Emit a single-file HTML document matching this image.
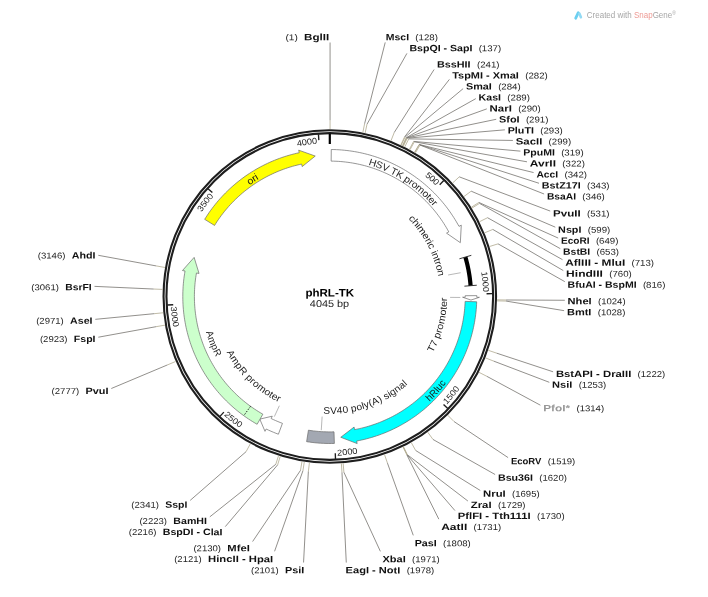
<!DOCTYPE html>
<html><head><meta charset="utf-8"><title>phRL-TK</title>
<style>
html,body{margin:0;padding:0;background:#fff;}
svg{display:block;font-family:"Liberation Sans",sans-serif;filter:blur(0.5px);}
</style></head><body>
<svg width="708" height="597" viewBox="0 0 708 597">
<rect width="708" height="597" fill="#fff"/>
<circle cx="329.8" cy="296.5" r="166.25" fill="none" stroke="#1e1e1e" stroke-width="2.1"/>
<circle cx="329.8" cy="296.5" r="163.35" fill="none" stroke="#1e1e1e" stroke-width="2.1"/>
<line x1="329.8" y1="133.5" x2="329.8" y2="144" stroke="#000" stroke-width="2.2" />
<line x1="443.77" y1="180.52" x2="439.7" y2="184.66" stroke="#1e1e1e" stroke-width="1.35" />
<text transform="translate(426.63,177.52) rotate(39.14) scale(1.08,1)" text-anchor="middle" font-size="8.5" font-weight="normal" fill="#222">5</text>
<text transform="translate(430.45,180.73) rotate(41) scale(1.08,1)" text-anchor="middle" font-size="8.5" font-weight="normal" fill="#222">0</text>
<text transform="translate(434.16,184.07) rotate(42.87) scale(1.08,1)" text-anchor="middle" font-size="8.5" font-weight="normal" fill="#222">0</text>
<line x1="492.38" y1="293.66" x2="486.58" y2="293.76" stroke="#1e1e1e" stroke-width="1.35" />
<text transform="translate(481.62,274.55) rotate(81.77) scale(1.08,1)" text-anchor="middle" font-size="8.5" font-weight="normal" fill="#222">1</text>
<text transform="translate(482.26,279.5) rotate(83.64) scale(1.08,1)" text-anchor="middle" font-size="8.5" font-weight="normal" fill="#222">0</text>
<text transform="translate(482.73,284.47) rotate(85.5) scale(1.08,1)" text-anchor="middle" font-size="8.5" font-weight="normal" fill="#222">0</text>
<text transform="translate(483.04,289.45) rotate(87.37) scale(1.08,1)" text-anchor="middle" font-size="8.5" font-weight="normal" fill="#222">0</text>
<line x1="447.75" y1="408.42" x2="443.54" y2="404.43" stroke="#1e1e1e" stroke-width="1.35" />
<text transform="translate(448.43,402.81) rotate(311.87) scale(1.08,1)" text-anchor="middle" font-size="8.5" font-weight="normal" fill="#222">1</text>
<text transform="translate(451.83,398.9) rotate(310) scale(1.08,1)" text-anchor="middle" font-size="8.5" font-weight="normal" fill="#222">5</text>
<text transform="translate(455.1,394.87) rotate(308.14) scale(1.08,1)" text-anchor="middle" font-size="8.5" font-weight="normal" fill="#222">0</text>
<text transform="translate(458.23,390.74) rotate(306.27) scale(1.08,1)" text-anchor="middle" font-size="8.5" font-weight="normal" fill="#222">0</text>
<line x1="335.48" y1="459" x2="335.28" y2="453.2" stroke="#1e1e1e" stroke-width="1.35" />
<text transform="translate(339.9,455.48) rotate(356.36) scale(1.08,1)" text-anchor="middle" font-size="8.5" font-weight="normal" fill="#222">2</text>
<text transform="translate(345.07,455.07) rotate(354.5) scale(1.08,1)" text-anchor="middle" font-size="8.5" font-weight="normal" fill="#222">0</text>
<text transform="translate(350.22,454.49) rotate(352.63) scale(1.08,1)" text-anchor="middle" font-size="8.5" font-weight="normal" fill="#222">0</text>
<text transform="translate(355.35,453.74) rotate(350.77) scale(1.08,1)" text-anchor="middle" font-size="8.5" font-weight="normal" fill="#222">0</text>
<line x1="219.96" y1="416.39" x2="223.87" y2="412.11" stroke="#1e1e1e" stroke-width="1.35" />
<text transform="translate(225.57,416.97) rotate(400.86) scale(1.08,1)" text-anchor="middle" font-size="8.5" font-weight="normal" fill="#222">2</text>
<text transform="translate(229.55,420.3) rotate(399) scale(1.08,1)" text-anchor="middle" font-size="8.5" font-weight="normal" fill="#222">5</text>
<text transform="translate(233.63,423.5) rotate(397.13) scale(1.08,1)" text-anchor="middle" font-size="8.5" font-weight="normal" fill="#222">0</text>
<text transform="translate(237.82,426.56) rotate(395.27) scale(1.08,1)" text-anchor="middle" font-size="8.5" font-weight="normal" fill="#222">0</text>
<line x1="167.42" y1="305.02" x2="173.22" y2="304.72" stroke="#1e1e1e" stroke-width="1.35" />
<text transform="translate(171.02,309.38) rotate(445.36) scale(1.08,1)" text-anchor="middle" font-size="8.5" font-weight="normal" fill="#222">3</text>
<text transform="translate(171.52,314.54) rotate(443.5) scale(1.08,1)" text-anchor="middle" font-size="8.5" font-weight="normal" fill="#222">0</text>
<text transform="translate(172.2,319.68) rotate(441.63) scale(1.08,1)" text-anchor="middle" font-size="8.5" font-weight="normal" fill="#222">0</text>
<text transform="translate(173.03,324.8) rotate(439.77) scale(1.08,1)" text-anchor="middle" font-size="8.5" font-weight="normal" fill="#222">0</text>
<line x1="208.01" y1="188.77" x2="212.36" y2="192.61" stroke="#1e1e1e" stroke-width="1.35" />
<text transform="translate(203.03,210.12) rotate(304.27) scale(1.08,1)" text-anchor="middle" font-size="8.5" font-weight="normal" fill="#222">3</text>
<text transform="translate(205.91,206.04) rotate(306.14) scale(1.08,1)" text-anchor="middle" font-size="8.5" font-weight="normal" fill="#222">5</text>
<text transform="translate(208.92,202.06) rotate(308) scale(1.08,1)" text-anchor="middle" font-size="8.5" font-weight="normal" fill="#222">0</text>
<text transform="translate(212.05,198.18) rotate(309.86) scale(1.08,1)" text-anchor="middle" font-size="8.5" font-weight="normal" fill="#222">0</text>
<line x1="318.44" y1="134.3" x2="318.85" y2="140.08" stroke="#1e1e1e" stroke-width="1.35" />
<text transform="translate(299.93,146.04) rotate(348.77) scale(1.08,1)" text-anchor="middle" font-size="8.5" font-weight="normal" fill="#222">4</text>
<text transform="translate(304.84,145.14) rotate(350.64) scale(1.08,1)" text-anchor="middle" font-size="8.5" font-weight="normal" fill="#222">0</text>
<text transform="translate(309.77,144.41) rotate(352.5) scale(1.08,1)" text-anchor="middle" font-size="8.5" font-weight="normal" fill="#222">0</text>
<text transform="translate(314.73,143.84) rotate(354.36) scale(1.08,1)" text-anchor="middle" font-size="8.5" font-weight="normal" fill="#222">0</text>
<path d="M331.28,149.51 L333.89,149.56 L336.49,149.65 L339.09,149.79 L341.69,149.98 L344.29,150.22 L346.88,150.5 L349.46,150.82 L352.04,151.19 L354.61,151.61 L357.18,152.07 L359.73,152.58 L362.28,153.13 L364.81,153.73 L367.34,154.37 L369.85,155.06 L372.35,155.79 L374.84,156.57 L377.31,157.39 L379.77,158.25 L382.21,159.16 L384.64,160.11 L387.05,161.1 L389.44,162.14 L391.81,163.22 L394.16,164.34 L396.49,165.5 L398.8,166.7 L401.09,167.95 L403.36,169.23 L405.61,170.55 L407.83,171.92 L410.02,173.32 L412.19,174.76 L414.34,176.24 L416.45,177.76 L418.55,179.31 L420.61,180.9 L422.64,182.53 L424.65,184.19 L426.62,185.89 L428.57,187.63 L430.48,189.39 L432.37,191.19 L434.22,193.03 L436.03,194.89 L437.82,196.79 L439.57,198.72 L441.28,200.68 L442.96,202.68 L444.61,204.7 L446.22,206.74 L447.79,208.82 L449.33,210.93 L450.82,213.06 L452.28,215.22 L453.7,217.4 L455.09,219.61 L456.43,221.84 L457.73,224.1 L459,226.38 L461.28,225.14 L460.34,242.68 L446.52,233.15 L448.8,231.91 L447.64,229.81 L446.44,227.73 L445.2,225.68 L443.93,223.64 L442.62,221.63 L441.27,219.64 L439.89,217.68 L438.48,215.74 L437.03,213.83 L435.55,211.94 L434.03,210.08 L432.49,208.25 L430.91,206.44 L429.29,204.66 L427.65,202.91 L425.98,201.19 L424.27,199.5 L422.54,197.84 L420.77,196.22 L418.98,194.62 L417.16,193.06 L415.32,191.52 L413.44,190.02 L411.54,188.56 L409.62,187.13 L407.67,185.73 L405.69,184.37 L403.69,183.04 L401.67,181.75 L399.62,180.49 L397.56,179.27 L395.47,178.09 L393.36,176.95 L391.23,175.84 L389.08,174.77 L386.92,173.74 L384.73,172.74 L382.53,171.79 L380.31,170.87 L378.08,170 L375.83,169.16 L373.56,168.37 L371.29,167.61 L368.99,166.9 L366.69,166.22 L364.38,165.59 L362.05,165 L359.72,164.45 L357.37,163.94 L355.02,163.47 L352.66,163.04 L350.29,162.66 L347.91,162.32 L345.53,162.02 L343.14,161.76 L340.75,161.54 L338.36,161.37 L335.96,161.24 L333.57,161.15 L331.17,161.11Z" fill="#ffffff" stroke="#6a6a6a" stroke-width="0.7" stroke-linejoin="miter" />
<path d="M465.38,257.06 L466.1,259.61 L466.77,262.18 L467.39,264.76 L467.96,267.35 L468.48,269.95 L468.95,272.55 L469.38,275.17 L469.76,277.8 L470.08,280.43 L470.36,283.07 L470.59,285.71" fill="none" stroke="#000" stroke-width="4.2"/>
<line x1="459.43" y1="258.79" x2="471.33" y2="255.33" stroke="#222" stroke-width="0.9" />
<line x1="464.41" y1="286.18" x2="476.77" y2="285.23" stroke="#222" stroke-width="0.9" />
<path d="M476.8,295.64 L476.8,297.3 L479.4,297.31 L470.96,300.06 L462.6,297.22 L465.2,297.23 L465.2,295.71Z" fill="#ffffff" stroke="#6a6a6a" stroke-width="0.7" stroke-linejoin="miter" />
<path d="M476.7,301.81 L476.59,304.38 L476.43,306.96 L476.22,309.53 L475.97,312.09 L475.67,314.66 L475.33,317.21 L474.95,319.76 L474.52,322.3 L474.04,324.84 L473.52,327.37 L472.96,329.88 L472.35,332.39 L471.7,334.88 L471.01,337.37 L470.27,339.84 L469.49,342.29 L468.66,344.74 L467.79,347.17 L466.88,349.58 L465.93,351.98 L464.94,354.35 L463.9,356.72 L462.82,359.06 L461.71,361.38 L460.55,363.69 L459.35,365.97 L458.11,368.23 L456.83,370.47 L455.52,372.69 L454.16,374.88 L452.77,377.05 L451.33,379.2 L449.86,381.32 L448.36,383.41 L446.81,385.47 L445.24,387.51 L443.62,389.52 L441.97,391.51 L440.29,393.46 L438.57,395.38 L436.82,397.28 L435.04,399.14 L433.22,400.97 L431.37,402.77 L429.49,404.53 L427.58,406.26 L425.64,407.96 L423.67,409.63 L421.67,411.26 L419.64,412.85 L417.59,414.41 L415.51,415.93 L413.4,417.41 L411.26,418.86 L409.11,420.27 L406.92,421.64 L404.72,422.98 L402.48,424.27 L400.23,425.53 L397.96,426.74 L395.66,427.92 L393.35,429.05 L391.01,430.15 L388.66,431.2 L386.29,432.21 L383.9,433.18 L381.49,434.11 L379.07,435 L376.63,435.84 L374.18,436.64 L371.72,437.4 L369.24,438.11 L366.75,438.78 L364.25,439.41 L361.73,439.99 L359.21,440.53 L356.68,441.02 L357.16,443.58 L340.76,437.27 L354.08,427.06 L354.56,429.62 L356.89,429.16 L359.21,428.67 L361.53,428.13 L363.83,427.55 L366.13,426.94 L368.41,426.28 L370.68,425.58 L372.94,424.84 L375.18,424.07 L377.41,423.25 L379.63,422.4 L381.83,421.5 L384.01,420.57 L386.18,419.6 L388.33,418.59 L390.47,417.55 L392.58,416.47 L394.67,415.35 L396.75,414.19 L398.8,413 L400.84,411.77 L402.85,410.51 L404.84,409.21 L406.8,407.87 L408.74,406.5 L410.66,405.1 L412.55,403.67 L414.42,402.2 L416.26,400.7 L418.08,399.17 L419.86,397.6 L421.62,396.01 L423.35,394.38 L425.06,392.72 L426.73,391.04 L428.37,389.32 L429.99,387.58 L431.57,385.81 L433.12,384.01 L434.64,382.18 L436.13,380.33 L437.58,378.45 L439,376.55 L440.39,374.62 L441.74,372.67 L443.06,370.7 L444.35,368.7 L445.59,366.68 L446.81,364.63 L447.99,362.57 L449.13,360.49 L450.23,358.39 L451.3,356.26 L452.33,354.12 L453.32,351.96 L454.27,349.79 L455.19,347.6 L456.07,345.39 L456.9,343.17 L457.7,340.93 L458.46,338.68 L459.18,336.42 L459.86,334.14 L460.5,331.85 L461.1,329.56 L461.66,327.25 L462.18,324.93 L462.66,322.6 L463.1,320.27 L463.49,317.93 L463.85,315.58 L464.16,313.22 L464.44,310.86 L464.67,308.5 L464.86,306.13 L465.01,303.76 L465.11,301.39Z" fill="#00ffff" stroke="#6a6a6a" stroke-width="0.7" stroke-linejoin="miter" />
<path d="M334.37,443.43 L331.58,443.49 L328.8,443.5 L326.01,443.45 L323.23,443.35 L320.44,443.2 L317.67,443 L314.89,442.74 L312.12,442.43 L309.36,442.07 L306.61,441.66 L308.44,430.2 L310.97,430.58 L313.52,430.92 L316.07,431.2 L318.62,431.44 L321.18,431.63 L323.74,431.76 L326.31,431.85 L328.87,431.9 L331.44,431.89 L334.01,431.83Z" fill="#a3a8b2" stroke="#6a6a6a" stroke-width="0.7" stroke-linejoin="miter" />
<path d="M278.39,434.22 L275.9,433.26 L273.43,432.26 L270.98,431.22 L268.54,430.13 L266.13,428.99 L265,431.34 L259.79,419.12 L272.28,416.2 L271.15,418.54 L273.38,419.58 L275.62,420.59 L277.88,421.55 L280.16,422.47 L282.45,423.35Z" fill="#ffffff" stroke="#6a6a6a" stroke-width="0.7" stroke-linejoin="miter" />
<path d="M257.11,424.27 L254.88,422.97 L252.67,421.64 L250.49,420.27 L248.33,418.86 L246.19,417.41 L244.09,415.92 L242,414.4 L239.95,412.84 L237.92,411.25 L235.92,409.62 L233.95,407.96 L232.01,406.26 L230.1,404.53 L228.22,402.76 L226.37,400.96 L224.56,399.13 L222.77,397.27 L221.02,395.38 L219.3,393.45 L217.62,391.5 L215.97,389.52 L214.36,387.51 L212.78,385.47 L211.24,383.4 L209.73,381.31 L208.26,379.19 L206.83,377.04 L205.43,374.87 L204.08,372.68 L202.76,370.46 L201.48,368.22 L200.25,365.96 L199.05,363.68 L197.89,361.37 L196.77,359.05 L195.69,356.7 L194.66,354.34 L193.66,351.96 L192.71,349.57 L191.8,347.15 L190.94,344.72 L190.11,342.28 L189.33,339.82 L188.59,337.35 L187.9,334.87 L187.24,332.37 L186.64,329.87 L186.07,327.35 L185.55,324.82 L185.08,322.29 L184.65,319.75 L184.26,317.2 L183.92,314.64 L183.63,312.08 L183.38,309.51 L183.17,306.94 L183.01,304.37 L182.9,301.79 L182.83,299.21 L182.8,296.63 L182.82,294.05 L182.89,291.48 L183,288.9 L183.15,286.33 L183.35,283.75 L183.6,281.19 L183.89,278.63 L184.23,276.07 L184.61,273.52 L185.03,270.97 L182.47,270.52 L194.13,257.38 L199.02,273.44 L196.46,272.99 L196.07,275.33 L195.71,277.68 L195.4,280.04 L195.14,282.4 L194.91,284.76 L194.72,287.13 L194.58,289.5 L194.48,291.87 L194.42,294.25 L194.4,296.62 L194.42,299 L194.49,301.37 L194.59,303.75 L194.74,306.12 L194.93,308.48 L195.16,310.85 L195.43,313.21 L195.75,315.56 L196.1,317.91 L196.5,320.25 L196.94,322.59 L197.42,324.92 L197.93,327.23 L198.49,329.54 L199.09,331.84 L199.73,334.13 L200.41,336.4 L201.13,338.67 L201.89,340.92 L202.69,343.16 L203.53,345.38 L204.41,347.59 L205.32,349.78 L206.28,351.95 L207.27,354.11 L208.3,356.25 L209.36,358.37 L210.47,360.48 L211.61,362.56 L212.79,364.62 L214,366.67 L215.25,368.69 L216.53,370.69 L217.85,372.66 L219.2,374.61 L220.59,376.54 L222.01,378.45 L223.47,380.32 L224.95,382.18 L226.47,384 L228.02,385.8 L229.61,387.57 L231.22,389.32 L232.86,391.03 L234.54,392.72 L236.24,394.37 L237.97,396 L239.73,397.6 L241.52,399.16 L243.33,400.69 L245.17,402.19 L247.04,403.66 L248.93,405.1 L250.85,406.5 L252.79,407.87 L254.76,409.2 L256.75,410.5 L258.76,411.77 L260.79,412.99 L262.85,414.19Z" fill="#ccffcc" stroke="#6a6a6a" stroke-width="0.7" stroke-linejoin="miter" />
<line x1="250.55" y1="406.29" x2="243.77" y2="415.69" stroke="#222" stroke-width="1.0" stroke-dasharray="1.5,1.4"/>
<path d="M204.68,219.34 L206.05,217.15 L207.47,214.99 L208.92,212.85 L210.41,210.74 L211.94,208.65 L213.5,206.6 L215.1,204.57 L216.73,202.56 L218.4,200.59 L220.1,198.65 L221.84,196.73 L223.61,194.85 L225.41,193 L227.25,191.18 L229.12,189.39 L231.01,187.64 L232.94,185.92 L234.9,184.24 L236.89,182.58 L238.91,180.97 L240.95,179.39 L243.02,177.85 L245.12,176.34 L247.25,174.87 L249.4,173.44 L251.58,172.04 L253.78,170.69 L256,169.37 L258.25,168.09 L260.51,166.85 L262.8,165.65 L265.11,164.5 L267.44,163.38 L269.79,162.31 L272.16,161.27 L274.55,160.28 L276.95,159.33 L279.37,158.42 L281.81,157.56 L284.26,156.73 L286.72,155.95 L289.2,155.22 L291.69,154.53 L294.19,153.88 L296.7,153.27 L299.22,152.72 L298.68,150.17 L315.24,156.05 L302.18,166.6 L301.64,164.06 L299.31,164.58 L297,165.13 L294.69,165.73 L292.4,166.37 L290.12,167.04 L287.85,167.76 L285.59,168.52 L283.35,169.32 L281.12,170.15 L278.91,171.03 L276.71,171.94 L274.53,172.89 L272.36,173.89 L270.22,174.91 L268.09,175.98 L265.98,177.08 L263.89,178.22 L261.82,179.4 L259.77,180.61 L257.75,181.86 L255.74,183.15 L253.76,184.47 L251.81,185.82 L249.87,187.21 L247.96,188.63 L246.08,190.09 L244.22,191.57 L242.39,193.09 L240.59,194.65 L238.81,196.23 L237.06,197.85 L235.34,199.49 L233.65,201.17 L231.99,202.87 L230.36,204.61 L228.76,206.37 L227.19,208.16 L225.65,209.98 L224.15,211.82 L222.68,213.69 L221.24,215.59 L219.83,217.51 L218.46,219.45 L217.12,221.42 L215.82,223.41 L214.55,225.43Z" fill="#ffff00" stroke="#6a6a6a" stroke-width="0.7" stroke-linejoin="miter" />
<text transform="translate(371.71,165.75) rotate(17.77) scale(1.05,1)" text-anchor="middle" font-size="9.7" font-weight="normal" fill="#1a1a1a">H</text>
<text transform="translate(378.23,168.02) rotate(20.65) scale(1.05,1)" text-anchor="middle" font-size="9.7" font-weight="normal" fill="#1a1a1a">S</text>
<text transform="translate(384.37,170.51) rotate(23.42) scale(1.05,1)" text-anchor="middle" font-size="9.7" font-weight="normal" fill="#1a1a1a">V</text>
<text transform="translate(392.61,174.41) rotate(27.22) scale(1.05,1)" text-anchor="middle" font-size="9.7" font-weight="normal" fill="#1a1a1a">T</text>
<text transform="translate(398.18,177.44) rotate(29.87) scale(1.05,1)" text-anchor="middle" font-size="9.7" font-weight="normal" fill="#1a1a1a">K</text>
<text transform="translate(405.7,182.09) rotate(33.56) scale(1.05,1)" text-anchor="middle" font-size="9.7" font-weight="normal" fill="#1a1a1a">p</text>
<text transform="translate(409.34,184.59) rotate(35.4) scale(1.05,1)" text-anchor="middle" font-size="9.7" font-weight="normal" fill="#1a1a1a">r</text>
<text transform="translate(412.9,187.2) rotate(37.25) scale(1.05,1)" text-anchor="middle" font-size="9.7" font-weight="normal" fill="#1a1a1a">o</text>
<text transform="translate(418.29,191.52) rotate(40.13) scale(1.05,1)" text-anchor="middle" font-size="9.7" font-weight="normal" fill="#1a1a1a">m</text>
<text transform="translate(423.45,196.1) rotate(43.01) scale(1.05,1)" text-anchor="middle" font-size="9.7" font-weight="normal" fill="#1a1a1a">o</text>
<text transform="translate(426.44,198.97) rotate(44.74) scale(1.05,1)" text-anchor="middle" font-size="9.7" font-weight="normal" fill="#1a1a1a">t</text>
<text transform="translate(429.34,201.93) rotate(46.47) scale(1.05,1)" text-anchor="middle" font-size="9.7" font-weight="normal" fill="#1a1a1a">e</text>
<text transform="translate(432.33,205.18) rotate(48.31) scale(1.05,1)" text-anchor="middle" font-size="9.7" font-weight="normal" fill="#1a1a1a">r</text>
<text transform="translate(251.83,183.48) rotate(325.4) scale(1.09,1)" text-anchor="middle" font-size="9.7" font-weight="normal" fill="#1a1a1a">o</text>
<text transform="translate(255.67,180.93) rotate(327.32) scale(1.09,1)" text-anchor="middle" font-size="9.7" font-weight="normal" fill="#1a1a1a">r</text>
<text transform="translate(258.11,179.4) rotate(328.52) scale(1.09,1)" text-anchor="middle" font-size="9.7" font-weight="normal" fill="#1a1a1a">i</text>
<text transform="translate(431.4,399.95) rotate(315.52) scale(1,1)" text-anchor="middle" font-size="9.7" font-weight="normal" fill="#1a1a1a">h</text>
<text transform="translate(435.82,395.41) rotate(313.01) scale(1,1)" text-anchor="middle" font-size="9.7" font-weight="normal" fill="#1a1a1a">R</text>
<text transform="translate(438.96,391.94) rotate(311.17) scale(1,1)" text-anchor="middle" font-size="9.7" font-weight="normal" fill="#1a1a1a">l</text>
<text transform="translate(441.46,389.01) rotate(309.64) scale(1,1)" text-anchor="middle" font-size="9.7" font-weight="normal" fill="#1a1a1a">u</text>
<text transform="translate(444.72,384.92) rotate(307.57) scale(1,1)" text-anchor="middle" font-size="9.7" font-weight="normal" fill="#1a1a1a">c</text>
<text transform="translate(206.87,334.94) rotate(432.63) scale(0.99,1)" text-anchor="middle" font-size="9.7" font-weight="normal" fill="#1a1a1a">A</text>
<text transform="translate(209.28,341.94) rotate(429.34) scale(0.99,1)" text-anchor="middle" font-size="9.7" font-weight="normal" fill="#1a1a1a">m</text>
<text transform="translate(211.87,348.29) rotate(426.29) scale(0.99,1)" text-anchor="middle" font-size="9.7" font-weight="normal" fill="#1a1a1a">p</text>
<text transform="translate(214.54,354) rotate(423.49) scale(0.99,1)" text-anchor="middle" font-size="9.7" font-weight="normal" fill="#1a1a1a">R</text>
<text transform="translate(410,220.63) rotate(46.59) scale(1.08,1)" text-anchor="middle" font-size="9.7" font-weight="normal" fill="#1a1a1a">c</text>
<text transform="translate(413.59,224.61) rotate(49.37) scale(1.08,1)" text-anchor="middle" font-size="9.7" font-weight="normal" fill="#1a1a1a">h</text>
<text transform="translate(416.11,227.66) rotate(51.42) scale(1.08,1)" text-anchor="middle" font-size="9.7" font-weight="normal" fill="#1a1a1a">i</text>
<text transform="translate(419.35,231.93) rotate(54.2) scale(1.08,1)" text-anchor="middle" font-size="9.7" font-weight="normal" fill="#1a1a1a">m</text>
<text transform="translate(423.29,237.78) rotate(57.87) scale(1.08,1)" text-anchor="middle" font-size="9.7" font-weight="normal" fill="#1a1a1a">e</text>
<text transform="translate(425.61,241.65) rotate(60.21) scale(1.08,1)" text-anchor="middle" font-size="9.7" font-weight="normal" fill="#1a1a1a">r</text>
<text transform="translate(426.98,244.12) rotate(61.67) scale(1.08,1)" text-anchor="middle" font-size="9.7" font-weight="normal" fill="#1a1a1a">i</text>
<text transform="translate(428.67,247.37) rotate(63.58) scale(1.08,1)" text-anchor="middle" font-size="9.7" font-weight="normal" fill="#1a1a1a">c</text>
<text transform="translate(431.38,253.27) rotate(66.95) scale(1.08,1)" text-anchor="middle" font-size="9.7" font-weight="normal" fill="#1a1a1a">i</text>
<text transform="translate(432.87,256.93) rotate(69) scale(1.08,1)" text-anchor="middle" font-size="9.7" font-weight="normal" fill="#1a1a1a">n</text>
<text transform="translate(434.31,260.92) rotate(71.2) scale(1.08,1)" text-anchor="middle" font-size="9.7" font-weight="normal" fill="#1a1a1a">t</text>
<text transform="translate(435.27,263.87) rotate(72.81) scale(1.08,1)" text-anchor="middle" font-size="9.7" font-weight="normal" fill="#1a1a1a">r</text>
<text transform="translate(436.51,268.21) rotate(75.15) scale(1.08,1)" text-anchor="middle" font-size="9.7" font-weight="normal" fill="#1a1a1a">o</text>
<text transform="translate(437.82,273.7) rotate(78.08) scale(1.08,1)" text-anchor="middle" font-size="9.7" font-weight="normal" fill="#1a1a1a">n</text>
<text transform="translate(434.19,350.21) rotate(297.23) scale(1.07,1)" text-anchor="middle" font-size="9.7" font-weight="normal" fill="#1a1a1a">T</text>
<text transform="translate(436.88,344.63) rotate(294.2) scale(1.07,1)" text-anchor="middle" font-size="9.7" font-weight="normal" fill="#1a1a1a">7</text>
<text transform="translate(440.2,336.43) rotate(289.88) scale(1.07,1)" text-anchor="middle" font-size="9.7" font-weight="normal" fill="#1a1a1a">p</text>
<text transform="translate(441.72,331.96) rotate(287.58) scale(1.07,1)" text-anchor="middle" font-size="9.7" font-weight="normal" fill="#1a1a1a">r</text>
<text transform="translate(443.05,327.44) rotate(285.28) scale(1.07,1)" text-anchor="middle" font-size="9.7" font-weight="normal" fill="#1a1a1a">o</text>
<text transform="translate(444.77,320.27) rotate(281.68) scale(1.07,1)" text-anchor="middle" font-size="9.7" font-weight="normal" fill="#1a1a1a">m</text>
<text transform="translate(446.03,313.01) rotate(278.08) scale(1.07,1)" text-anchor="middle" font-size="9.7" font-weight="normal" fill="#1a1a1a">o</text>
<text transform="translate(446.57,308.62) rotate(275.92) scale(1.07,1)" text-anchor="middle" font-size="9.7" font-weight="normal" fill="#1a1a1a">t</text>
<text transform="translate(446.95,304.21) rotate(273.76) scale(1.07,1)" text-anchor="middle" font-size="9.7" font-weight="normal" fill="#1a1a1a">e</text>
<text transform="translate(447.16,299.5) rotate(271.46) scale(1.07,1)" text-anchor="middle" font-size="9.7" font-weight="normal" fill="#1a1a1a">r</text>
<text transform="translate(326.53,413.85) rotate(361.6) scale(1.05,1)" text-anchor="middle" font-size="9.7" font-weight="normal" fill="#1a1a1a">S</text>
<text transform="translate(333.52,413.84) rotate(358.19) scale(1.05,1)" text-anchor="middle" font-size="9.7" font-weight="normal" fill="#1a1a1a">V</text>
<text transform="translate(339.91,413.46) rotate(355.06) scale(1.05,1)" text-anchor="middle" font-size="9.7" font-weight="normal" fill="#1a1a1a">4</text>
<text transform="translate(345.7,412.82) rotate(352.22) scale(1.05,1)" text-anchor="middle" font-size="9.7" font-weight="normal" fill="#1a1a1a">0</text>
<text transform="translate(354.3,411.32) rotate(347.96) scale(1.05,1)" text-anchor="middle" font-size="9.7" font-weight="normal" fill="#1a1a1a">p</text>
<text transform="translate(359.96,409.96) rotate(345.11) scale(1.05,1)" text-anchor="middle" font-size="9.7" font-weight="normal" fill="#1a1a1a">o</text>
<text transform="translate(363.88,408.84) rotate(343.12) scale(1.05,1)" text-anchor="middle" font-size="9.7" font-weight="normal" fill="#1a1a1a">l</text>
<text transform="translate(367.48,407.69) rotate(341.28) scale(1.05,1)" text-anchor="middle" font-size="9.7" font-weight="normal" fill="#1a1a1a">y</text>
<text transform="translate(371.59,406.21) rotate(339.15) scale(1.05,1)" text-anchor="middle" font-size="9.7" font-weight="normal" fill="#1a1a1a">(</text>
<text transform="translate(376.44,404.24) rotate(336.59) scale(1.05,1)" text-anchor="middle" font-size="9.7" font-weight="normal" fill="#1a1a1a">A</text>
<text transform="translate(381.19,402.05) rotate(334.04) scale(1.05,1)" text-anchor="middle" font-size="9.7" font-weight="normal" fill="#1a1a1a">)</text>
<text transform="translate(387.63,398.67) rotate(330.49) scale(1.05,1)" text-anchor="middle" font-size="9.7" font-weight="normal" fill="#1a1a1a">s</text>
<text transform="translate(390.89,396.75) rotate(328.64) scale(1.05,1)" text-anchor="middle" font-size="9.7" font-weight="normal" fill="#1a1a1a">i</text>
<text transform="translate(394.33,394.57) rotate(326.66) scale(1.05,1)" text-anchor="middle" font-size="9.7" font-weight="normal" fill="#1a1a1a">g</text>
<text transform="translate(399.12,391.25) rotate(323.81) scale(1.05,1)" text-anchor="middle" font-size="9.7" font-weight="normal" fill="#1a1a1a">n</text>
<text transform="translate(403.73,387.7) rotate(320.97) scale(1.05,1)" text-anchor="middle" font-size="9.7" font-weight="normal" fill="#1a1a1a">a</text>
<text transform="translate(406.85,385.08) rotate(318.98) scale(1.05,1)" text-anchor="middle" font-size="9.7" font-weight="normal" fill="#1a1a1a">l</text>
<text transform="translate(228.15,355.25) rotate(419.97) scale(1.05,1)" text-anchor="middle" font-size="9.7" font-weight="normal" fill="#1a1a1a">A</text>
<text transform="translate(232.3,361.89) rotate(416.15) scale(1.05,1)" text-anchor="middle" font-size="9.7" font-weight="normal" fill="#1a1a1a">m</text>
<text transform="translate(236.52,367.79) rotate(412.61) scale(1.05,1)" text-anchor="middle" font-size="9.7" font-weight="normal" fill="#1a1a1a">p</text>
<text transform="translate(240.72,372.97) rotate(409.35) scale(1.05,1)" text-anchor="middle" font-size="9.7" font-weight="normal" fill="#1a1a1a">R</text>
<text transform="translate(247.25,379.98) rotate(404.68) scale(1.05,1)" text-anchor="middle" font-size="9.7" font-weight="normal" fill="#1a1a1a">p</text>
<text transform="translate(250.62,383.18) rotate(402.41) scale(1.05,1)" text-anchor="middle" font-size="9.7" font-weight="normal" fill="#1a1a1a">r</text>
<text transform="translate(254.11,386.24) rotate(400.15) scale(1.05,1)" text-anchor="middle" font-size="9.7" font-weight="normal" fill="#1a1a1a">o</text>
<text transform="translate(259.79,390.74) rotate(396.61) scale(1.05,1)" text-anchor="middle" font-size="9.7" font-weight="normal" fill="#1a1a1a">m</text>
<text transform="translate(265.75,394.89) rotate(393.07) scale(1.05,1)" text-anchor="middle" font-size="9.7" font-weight="normal" fill="#1a1a1a">o</text>
<text transform="translate(269.44,397.19) rotate(390.94) scale(1.05,1)" text-anchor="middle" font-size="9.7" font-weight="normal" fill="#1a1a1a">t</text>
<text transform="translate(273.22,399.36) rotate(388.81) scale(1.05,1)" text-anchor="middle" font-size="9.7" font-weight="normal" fill="#1a1a1a">e</text>
<text transform="translate(277.33,401.52) rotate(386.55) scale(1.05,1)" text-anchor="middle" font-size="9.7" font-weight="normal" fill="#1a1a1a">r</text>
<line x1="448.16" y1="274.99" x2="460.66" y2="272.72" stroke="#9a9a9a" stroke-width="0.7" />
<line x1="450.1" y1="297.39" x2="460.3" y2="297.46" stroke="#9a9a9a" stroke-width="0.7" />
<line x1="322.14" y1="416.56" x2="321.27" y2="430.23" stroke="#9a9a9a" stroke-width="0.7" />
<line x1="279.37" y1="405.72" x2="274.34" y2="416.61" stroke="#9a9a9a" stroke-width="0.7" />
<text transform="translate(305.39,296.4) rotate(0.03)" font-size="11" font-weight="bold" fill="#000" textLength="48.82" lengthAdjust="spacingAndGlyphs">phRL-TK</text>
<text transform="translate(309.83,307) rotate(0.03)" font-size="10" font-weight="normal" fill="#222" textLength="39.35" lengthAdjust="spacingAndGlyphs">4045 bp</text>
<text transform="translate(385.8,40.2) rotate(0.03)" font-size="9.2" font-weight="bold" fill="#111" textLength="23.27" lengthAdjust="spacingAndGlyphs">MscI</text>
<text transform="translate(415.37,40.2) rotate(0.03)" font-size="8.5" font-weight="normal" fill="#222" textLength="22.53" lengthAdjust="spacingAndGlyphs">(128)</text>
<line x1="362.84" y1="132.5" x2="364.62" y2="123.67" stroke="#b0a98f" stroke-width="0.8" />
<line x1="364.62" y1="123.67" x2="385.23" y2="42.4" stroke="#76746e" stroke-width="0.8" />
<text transform="translate(409.4,51.2) rotate(0.03)" font-size="9.2" font-weight="bold" fill="#111" textLength="62.96" lengthAdjust="spacingAndGlyphs">BspQI - SapI</text>
<text transform="translate(478.66,51.2) rotate(0.03)" font-size="8.5" font-weight="normal" fill="#222" textLength="22.53" lengthAdjust="spacingAndGlyphs">(137)</text>
<line x1="365.13" y1="132.97" x2="367.03" y2="124.18" stroke="#b0a98f" stroke-width="0.8" />
<line x1="367.03" y1="124.18" x2="406.91" y2="53.4" stroke="#76746e" stroke-width="0.8" />
<text transform="translate(436.9,67.5) rotate(0.03)" font-size="9.2" font-weight="bold" fill="#111" textLength="33.73" lengthAdjust="spacingAndGlyphs">BssHII</text>
<text transform="translate(476.93,67.5) rotate(0.03)" font-size="8.5" font-weight="normal" fill="#222" textLength="22.53" lengthAdjust="spacingAndGlyphs">(241)</text>
<line x1="390.98" y1="140.79" x2="394.27" y2="132.41" stroke="#b0a98f" stroke-width="0.8" />
<line x1="394.27" y1="132.41" x2="434.1" y2="69.5" stroke="#76746e" stroke-width="0.8" />
<text transform="translate(452.2,78.5) rotate(0.03)" font-size="9.2" font-weight="bold" fill="#111" textLength="66.71" lengthAdjust="spacingAndGlyphs">TspMI - XmaI</text>
<text transform="translate(525.21,78.5) rotate(0.03)" font-size="8.5" font-weight="normal" fill="#222" textLength="22.53" lengthAdjust="spacingAndGlyphs">(282)</text>
<line x1="400.76" y1="145" x2="404.58" y2="136.85" stroke="#b0a98f" stroke-width="0.8" />
<line x1="404.58" y1="136.85" x2="449.4" y2="79.37" stroke="#76746e" stroke-width="0.8" />
<text transform="translate(465.9,89.5) rotate(0.03)" font-size="9.2" font-weight="bold" fill="#111" textLength="25.94" lengthAdjust="spacingAndGlyphs">SmaI</text>
<text transform="translate(498.14,89.5) rotate(0.03)" font-size="8.5" font-weight="normal" fill="#222" textLength="22.53" lengthAdjust="spacingAndGlyphs">(284)</text>
<line x1="401.23" y1="145.22" x2="405.08" y2="137.08" stroke="#b0a98f" stroke-width="0.8" />
<line x1="405.08" y1="137.08" x2="463.1" y2="88.67" stroke="#76746e" stroke-width="0.8" />
<text transform="translate(478.6,100.5) rotate(0.03)" font-size="9.2" font-weight="bold" fill="#111" textLength="22.43" lengthAdjust="spacingAndGlyphs">KasI</text>
<text transform="translate(507.33,100.5) rotate(0.03)" font-size="8.5" font-weight="normal" fill="#222" textLength="22.53" lengthAdjust="spacingAndGlyphs">(289)</text>
<line x1="402.41" y1="145.78" x2="406.31" y2="137.67" stroke="#b0a98f" stroke-width="0.8" />
<line x1="406.31" y1="137.67" x2="475.8" y2="98.63" stroke="#76746e" stroke-width="0.8" />
<text transform="translate(489.6,111.5) rotate(0.03)" font-size="9.2" font-weight="bold" fill="#111" textLength="22.25" lengthAdjust="spacingAndGlyphs">NarI</text>
<text transform="translate(518.15,111.5) rotate(0.03)" font-size="8.5" font-weight="normal" fill="#222" textLength="22.53" lengthAdjust="spacingAndGlyphs">(290)</text>
<line x1="402.64" y1="145.89" x2="406.56" y2="137.79" stroke="#b0a98f" stroke-width="0.8" />
<line x1="406.56" y1="137.79" x2="486.8" y2="108.87" stroke="#76746e" stroke-width="0.8" />
<text transform="translate(499,122.5) rotate(0.03)" font-size="9.2" font-weight="bold" fill="#111" textLength="20.58" lengthAdjust="spacingAndGlyphs">SfoI</text>
<text transform="translate(525.88,122.5) rotate(0.03)" font-size="8.5" font-weight="normal" fill="#222" textLength="22.53" lengthAdjust="spacingAndGlyphs">(291)</text>
<line x1="402.87" y1="146" x2="406.8" y2="137.91" stroke="#b0a98f" stroke-width="0.8" />
<line x1="406.8" y1="137.91" x2="496.2" y2="119.29" stroke="#76746e" stroke-width="0.8" />
<text transform="translate(507.7,133.5) rotate(0.03)" font-size="9.2" font-weight="bold" fill="#111" textLength="26.23" lengthAdjust="spacingAndGlyphs">PluTI</text>
<text transform="translate(540.23,133.5) rotate(0.03)" font-size="8.5" font-weight="normal" fill="#222" textLength="22.53" lengthAdjust="spacingAndGlyphs">(293)</text>
<line x1="403.34" y1="146.23" x2="407.3" y2="138.15" stroke="#b0a98f" stroke-width="0.8" />
<line x1="407.3" y1="138.15" x2="504.9" y2="129.82" stroke="#76746e" stroke-width="0.8" />
<text transform="translate(515.7,144.5) rotate(0.03)" font-size="9.2" font-weight="bold" fill="#111" textLength="26.6" lengthAdjust="spacingAndGlyphs">SacII</text>
<text transform="translate(548.6,144.5) rotate(0.03)" font-size="8.5" font-weight="normal" fill="#222" textLength="22.53" lengthAdjust="spacingAndGlyphs">(299)</text>
<line x1="404.74" y1="146.92" x2="408.77" y2="138.88" stroke="#b0a98f" stroke-width="0.8" />
<line x1="408.77" y1="138.88" x2="512.9" y2="140.44" stroke="#76746e" stroke-width="0.8" />
<text transform="translate(523.2,155.5) rotate(0.03)" font-size="9.2" font-weight="bold" fill="#111" textLength="31.65" lengthAdjust="spacingAndGlyphs">PpuMI</text>
<text transform="translate(561.15,155.5) rotate(0.03)" font-size="8.5" font-weight="normal" fill="#222" textLength="22.53" lengthAdjust="spacingAndGlyphs">(319)</text>
<line x1="409.35" y1="149.32" x2="413.63" y2="141.4" stroke="#b0a98f" stroke-width="0.8" />
<line x1="413.63" y1="141.4" x2="520.4" y2="151.15" stroke="#76746e" stroke-width="0.8" />
<text transform="translate(529.8,166.5) rotate(0.03)" font-size="9.2" font-weight="bold" fill="#111" textLength="26.23" lengthAdjust="spacingAndGlyphs">AvrII</text>
<text transform="translate(562.33,166.5) rotate(0.03)" font-size="8.5" font-weight="normal" fill="#222" textLength="22.53" lengthAdjust="spacingAndGlyphs">(322)</text>
<line x1="410.03" y1="149.69" x2="414.35" y2="141.8" stroke="#b0a98f" stroke-width="0.8" />
<line x1="414.35" y1="141.8" x2="527" y2="161.82" stroke="#76746e" stroke-width="0.8" />
<text transform="translate(536.4,177.5) rotate(0.03)" font-size="9.2" font-weight="bold" fill="#111" textLength="21.73" lengthAdjust="spacingAndGlyphs">AccI</text>
<text transform="translate(564.43,177.5) rotate(0.03)" font-size="8.5" font-weight="normal" fill="#222" textLength="22.53" lengthAdjust="spacingAndGlyphs">(342)</text>
<line x1="414.55" y1="152.26" x2="419.11" y2="144.5" stroke="#b0a98f" stroke-width="0.8" />
<line x1="419.11" y1="144.5" x2="533.6" y2="172.57" stroke="#76746e" stroke-width="0.8" />
<text transform="translate(541.8,188.5) rotate(0.03)" font-size="9.2" font-weight="bold" fill="#111" textLength="38.9" lengthAdjust="spacingAndGlyphs">BstZ17I</text>
<text transform="translate(587,188.5) rotate(0.03)" font-size="8.5" font-weight="normal" fill="#222" textLength="22.53" lengthAdjust="spacingAndGlyphs">(343)</text>
<line x1="414.78" y1="152.39" x2="419.35" y2="144.64" stroke="#b0a98f" stroke-width="0.8" />
<line x1="419.35" y1="144.64" x2="539" y2="183.27" stroke="#76746e" stroke-width="0.8" />
<text transform="translate(546.9,199.5) rotate(0.03)" font-size="9.2" font-weight="bold" fill="#111" textLength="29.1" lengthAdjust="spacingAndGlyphs">BsaAI</text>
<text transform="translate(582.3,199.5) rotate(0.03)" font-size="8.5" font-weight="normal" fill="#222" textLength="22.53" lengthAdjust="spacingAndGlyphs">(346)</text>
<line x1="415.45" y1="152.79" x2="420.06" y2="145.06" stroke="#b0a98f" stroke-width="0.8" />
<line x1="420.06" y1="145.06" x2="544.1" y2="194" stroke="#76746e" stroke-width="0.8" />
<text transform="translate(553,216.5) rotate(0.03)" font-size="9.2" font-weight="bold" fill="#111" textLength="27.73" lengthAdjust="spacingAndGlyphs">PvuII</text>
<text transform="translate(587.03,216.5) rotate(0.03)" font-size="8.5" font-weight="normal" fill="#222" textLength="22.53" lengthAdjust="spacingAndGlyphs">(531)</text>
<line x1="452.67" y1="182.95" x2="459.28" y2="176.85" stroke="#b0a98f" stroke-width="0.8" />
<line x1="459.28" y1="176.85" x2="550.2" y2="211.07" stroke="#76746e" stroke-width="0.8" />
<text transform="translate(558.1,232.8) rotate(0.03)" font-size="9.2" font-weight="bold" fill="#111" textLength="23.36" lengthAdjust="spacingAndGlyphs">NspI</text>
<text transform="translate(587.76,232.8) rotate(0.03)" font-size="8.5" font-weight="normal" fill="#222" textLength="22.53" lengthAdjust="spacingAndGlyphs">(599)</text>
<line x1="463.95" y1="196.54" x2="471.17" y2="191.16" stroke="#b0a98f" stroke-width="0.8" />
<line x1="471.17" y1="191.16" x2="555.3" y2="227.17" stroke="#76746e" stroke-width="0.8" />
<text transform="translate(561,243.8) rotate(0.03)" font-size="9.2" font-weight="bold" fill="#111" textLength="28.59" lengthAdjust="spacingAndGlyphs">EcoRI</text>
<text transform="translate(595.89,243.8) rotate(0.03)" font-size="8.5" font-weight="normal" fill="#222" textLength="22.53" lengthAdjust="spacingAndGlyphs">(649)</text>
<line x1="471.31" y1="207.25" x2="478.92" y2="202.45" stroke="#b0a98f" stroke-width="0.8" />
<line x1="478.92" y1="202.45" x2="558.2" y2="238.09" stroke="#76746e" stroke-width="0.8" />
<text transform="translate(563.1,254.8) rotate(0.03)" font-size="9.2" font-weight="bold" fill="#111" textLength="27.14" lengthAdjust="spacingAndGlyphs">BstBI</text>
<text transform="translate(596.54,254.8) rotate(0.03)" font-size="8.5" font-weight="normal" fill="#222" textLength="22.53" lengthAdjust="spacingAndGlyphs">(653)</text>
<line x1="471.86" y1="208.13" x2="479.5" y2="203.38" stroke="#b0a98f" stroke-width="0.8" />
<line x1="479.5" y1="203.38" x2="560.3" y2="248.67" stroke="#76746e" stroke-width="0.8" />
<text transform="translate(565.3,265.8) rotate(0.03)" font-size="9.2" font-weight="bold" fill="#111" textLength="59.94" lengthAdjust="spacingAndGlyphs">AflIII - MluI</text>
<text transform="translate(631.54,265.8) rotate(0.03)" font-size="8.5" font-weight="normal" fill="#222" textLength="22.53" lengthAdjust="spacingAndGlyphs">(713)</text>
<line x1="479.47" y1="221.74" x2="487.52" y2="217.71" stroke="#b0a98f" stroke-width="0.8" />
<line x1="487.52" y1="217.71" x2="562.5" y2="259.67" stroke="#76746e" stroke-width="0.8" />
<text transform="translate(566.1,276.8) rotate(0.03)" font-size="9.2" font-weight="bold" fill="#111" textLength="36.78" lengthAdjust="spacingAndGlyphs">HindIII</text>
<text transform="translate(609.18,276.8) rotate(0.03)" font-size="8.5" font-weight="normal" fill="#222" textLength="22.53" lengthAdjust="spacingAndGlyphs">(760)</text>
<line x1="484.52" y1="232.85" x2="492.84" y2="229.43" stroke="#b0a98f" stroke-width="0.8" />
<line x1="492.84" y1="229.43" x2="563.3" y2="270.58" stroke="#76746e" stroke-width="0.8" />
<text transform="translate(567.6,287.8) rotate(0.03)" font-size="9.2" font-weight="bold" fill="#111" textLength="68.99" lengthAdjust="spacingAndGlyphs">BfuAI - BspMI</text>
<text transform="translate(642.89,287.8) rotate(0.03)" font-size="8.5" font-weight="normal" fill="#222" textLength="22.53" lengthAdjust="spacingAndGlyphs">(816)</text>
<line x1="489.46" y1="246.53" x2="498.05" y2="243.85" stroke="#b0a98f" stroke-width="0.8" />
<line x1="498.05" y1="243.85" x2="564.8" y2="281.65" stroke="#76746e" stroke-width="0.8" />
<text transform="translate(567.6,304.3) rotate(0.03)" font-size="9.2" font-weight="bold" fill="#111" textLength="24.09" lengthAdjust="spacingAndGlyphs">NheI</text>
<text transform="translate(597.99,304.3) rotate(0.03)" font-size="8.5" font-weight="normal" fill="#222" textLength="27.62" lengthAdjust="spacingAndGlyphs">(1024)</text>
<line x1="497.07" y1="299.81" x2="506.07" y2="299.99" stroke="#b0a98f" stroke-width="0.8" />
<line x1="506.07" y1="299.99" x2="564.8" y2="300.28" stroke="#76746e" stroke-width="0.8" />
<text transform="translate(566.9,315.3) rotate(0.03)" font-size="9.2" font-weight="bold" fill="#111" textLength="24.55" lengthAdjust="spacingAndGlyphs">BmtI</text>
<text transform="translate(597.75,315.3) rotate(0.03)" font-size="8.5" font-weight="normal" fill="#222" textLength="27.62" lengthAdjust="spacingAndGlyphs">(1028)</text>
<line x1="497.04" y1="300.85" x2="506.04" y2="301.09" stroke="#b0a98f" stroke-width="0.8" />
<line x1="506.04" y1="301.09" x2="564.1" y2="310.67" stroke="#76746e" stroke-width="0.8" />
<text transform="translate(555.9,377.05) rotate(0.03)" font-size="9.2" font-weight="bold" fill="#111" textLength="75.37" lengthAdjust="spacingAndGlyphs">BstAPI - DraIII</text>
<text transform="translate(637.57,377.05) rotate(0.03)" font-size="8.5" font-weight="normal" fill="#222" textLength="27.62" lengthAdjust="spacingAndGlyphs">(1222)</text>
<line x1="488.22" y1="350.29" x2="496.74" y2="353.19" stroke="#b0a98f" stroke-width="0.8" />
<line x1="496.74" y1="353.19" x2="553.1" y2="371.8" stroke="#76746e" stroke-width="0.8" />
<text transform="translate(552.1,387.75) rotate(0.03)" font-size="9.2" font-weight="bold" fill="#111" textLength="20.25" lengthAdjust="spacingAndGlyphs">NsiI</text>
<text transform="translate(578.65,387.75) rotate(0.03)" font-size="8.5" font-weight="normal" fill="#222" textLength="27.62" lengthAdjust="spacingAndGlyphs">(1253)</text>
<line x1="485.44" y1="357.86" x2="493.82" y2="361.16" stroke="#b0a98f" stroke-width="0.8" />
<line x1="493.82" y1="361.16" x2="549.3" y2="382.3" stroke="#76746e" stroke-width="0.8" />
<text transform="translate(543.2,411.25) rotate(0.03)" font-size="9.2" font-weight="bold" fill="#999" textLength="26.96" lengthAdjust="spacingAndGlyphs">PfoI*</text>
<text transform="translate(576.46,411.25) rotate(0.03)" font-size="8.5" font-weight="normal" fill="#222" textLength="27.62" lengthAdjust="spacingAndGlyphs">(1314)</text>
<line x1="478.94" y1="372.31" x2="486.96" y2="376.39" stroke="#b0a98f" stroke-width="0.8" />
<line x1="486.96" y1="376.39" x2="540.4" y2="405.2" stroke="#76746e" stroke-width="0.8" />
<text transform="translate(510.9,464.15) rotate(0.03)" font-size="9.2" font-weight="bold" fill="#111" textLength="30.48" lengthAdjust="spacingAndGlyphs">EcoRV</text>
<text transform="translate(547.68,464.15) rotate(0.03)" font-size="8.5" font-weight="normal" fill="#222" textLength="27.62" lengthAdjust="spacingAndGlyphs">(1519)</text>
<line x1="447.71" y1="415.19" x2="454.05" y2="421.57" stroke="#b0a98f" stroke-width="0.8" />
<line x1="454.05" y1="421.57" x2="508.1" y2="457.62" stroke="#76746e" stroke-width="0.8" />
<text transform="translate(497.9,480.65) rotate(0.03)" font-size="9.2" font-weight="bold" fill="#111" textLength="35.1" lengthAdjust="spacingAndGlyphs">Bsu36I</text>
<text transform="translate(539.3,480.65) rotate(0.03)" font-size="8.5" font-weight="normal" fill="#222" textLength="27.62" lengthAdjust="spacingAndGlyphs">(1620)</text>
<line x1="427.72" y1="432.15" x2="432.98" y2="439.45" stroke="#b0a98f" stroke-width="0.8" />
<line x1="432.98" y1="439.45" x2="495.1" y2="474.51" stroke="#76746e" stroke-width="0.8" />
<text transform="translate(483.1,496.85) rotate(0.03)" font-size="9.2" font-weight="bold" fill="#111" textLength="22.64" lengthAdjust="spacingAndGlyphs">NruI</text>
<text transform="translate(512.04,496.85) rotate(0.03)" font-size="8.5" font-weight="normal" fill="#222" textLength="27.62" lengthAdjust="spacingAndGlyphs">(1695)</text>
<line x1="411.28" y1="442.62" x2="415.67" y2="450.48" stroke="#b0a98f" stroke-width="0.8" />
<line x1="415.67" y1="450.48" x2="480.3" y2="490.5" stroke="#76746e" stroke-width="0.8" />
<text transform="translate(470.7,507.95) rotate(0.03)" font-size="9.2" font-weight="bold" fill="#111" textLength="20.91" lengthAdjust="spacingAndGlyphs">ZraI</text>
<text transform="translate(497.91,507.95) rotate(0.03)" font-size="8.5" font-weight="normal" fill="#222" textLength="27.62" lengthAdjust="spacingAndGlyphs">(1729)</text>
<line x1="403.46" y1="446.71" x2="407.42" y2="454.79" stroke="#b0a98f" stroke-width="0.8" />
<line x1="407.42" y1="454.79" x2="467.9" y2="501.04" stroke="#76746e" stroke-width="0.8" />
<text transform="translate(457.7,518.95) rotate(0.03)" font-size="9.2" font-weight="bold" fill="#111" textLength="72.96" lengthAdjust="spacingAndGlyphs">PflFI - Tth111I</text>
<text transform="translate(536.96,518.95) rotate(0.03)" font-size="8.5" font-weight="normal" fill="#222" textLength="27.62" lengthAdjust="spacingAndGlyphs">(1730)</text>
<line x1="403.22" y1="446.83" x2="407.17" y2="454.91" stroke="#b0a98f" stroke-width="0.8" />
<line x1="407.17" y1="454.91" x2="454.9" y2="510.52" stroke="#76746e" stroke-width="0.8" />
<text transform="translate(441.2,529.95) rotate(0.03)" font-size="9.2" font-weight="bold" fill="#111" textLength="26.03" lengthAdjust="spacingAndGlyphs">AatII</text>
<text transform="translate(473.53,529.95) rotate(0.03)" font-size="8.5" font-weight="normal" fill="#222" textLength="27.62" lengthAdjust="spacingAndGlyphs">(1731)</text>
<line x1="402.99" y1="446.94" x2="406.93" y2="455.03" stroke="#b0a98f" stroke-width="0.8" />
<line x1="406.93" y1="455.03" x2="438.82" y2="519.15" stroke="#76746e" stroke-width="0.8" />
<text transform="translate(414.7,546.15) rotate(0.03)" font-size="9.2" font-weight="bold" fill="#111" textLength="22.1" lengthAdjust="spacingAndGlyphs">PasI</text>
<text transform="translate(443.1,546.15) rotate(0.03)" font-size="8.5" font-weight="normal" fill="#222" textLength="27.62" lengthAdjust="spacingAndGlyphs">(1808)</text>
<line x1="384.52" y1="454.6" x2="387.46" y2="463.1" stroke="#b0a98f" stroke-width="0.8" />
<line x1="387.46" y1="463.1" x2="413.27" y2="535.35" stroke="#76746e" stroke-width="0.8" />
<text transform="translate(382.5,562.15) rotate(0.03)" font-size="9.2" font-weight="bold" fill="#111" textLength="23.29" lengthAdjust="spacingAndGlyphs">XbaI</text>
<text transform="translate(412.09,562.15) rotate(0.03)" font-size="8.5" font-weight="normal" fill="#222" textLength="27.62" lengthAdjust="spacingAndGlyphs">(1971)</text>
<line x1="343.17" y1="463.26" x2="343.89" y2="472.24" stroke="#b0a98f" stroke-width="0.8" />
<line x1="343.89" y1="472.24" x2="380.36" y2="551.35" stroke="#76746e" stroke-width="0.8" />
<text transform="translate(345.6,573.35) rotate(0.03)" font-size="9.2" font-weight="bold" fill="#111" textLength="54.78" lengthAdjust="spacingAndGlyphs">EagI - NotI</text>
<text transform="translate(406.68,573.35) rotate(0.03)" font-size="8.5" font-weight="normal" fill="#222" textLength="27.62" lengthAdjust="spacingAndGlyphs">(1978)</text>
<line x1="341.36" y1="463.4" x2="341.98" y2="472.38" stroke="#b0a98f" stroke-width="0.8" />
<line x1="341.98" y1="472.38" x2="346.28" y2="562.55" stroke="#76746e" stroke-width="0.8" />
<text transform="translate(284.94,573.3) rotate(0.03)" font-size="9.2" font-weight="bold" fill="#111" textLength="19.26" lengthAdjust="spacingAndGlyphs">PsiI</text>
<text transform="translate(251.02,573.3) rotate(0.03)" font-size="8.5" font-weight="normal" fill="#222" textLength="27.62" lengthAdjust="spacingAndGlyphs">(2101)</text>
<line x1="309.45" y1="462.56" x2="308.36" y2="471.49" stroke="#b0a98f" stroke-width="0.8" />
<line x1="308.36" y1="471.49" x2="303.56" y2="562.5" stroke="#76746e" stroke-width="0.8" />
<text transform="translate(208.08,562.1) rotate(0.03)" font-size="9.2" font-weight="bold" fill="#111" textLength="65.12" lengthAdjust="spacingAndGlyphs">HincII - HpaI</text>
<text transform="translate(174.16,562.1) rotate(0.03)" font-size="8.5" font-weight="normal" fill="#222" textLength="27.62" lengthAdjust="spacingAndGlyphs">(2121)</text>
<line x1="304.3" y1="461.85" x2="302.93" y2="470.74" stroke="#b0a98f" stroke-width="0.8" />
<line x1="302.93" y1="470.74" x2="274.59" y2="551.3" stroke="#76746e" stroke-width="0.8" />
<text transform="translate(227.35,551.2) rotate(0.03)" font-size="9.2" font-weight="bold" fill="#111" textLength="22.45" lengthAdjust="spacingAndGlyphs">MfeI</text>
<text transform="translate(193.44,551.2) rotate(0.03)" font-size="8.5" font-weight="normal" fill="#222" textLength="27.62" lengthAdjust="spacingAndGlyphs">(2130)</text>
<line x1="301.99" y1="461.47" x2="300.5" y2="470.35" stroke="#b0a98f" stroke-width="0.8" />
<line x1="300.5" y1="470.35" x2="252.6" y2="541.55" stroke="#76746e" stroke-width="0.8" />
<text transform="translate(162.7,535.1) rotate(0.03)" font-size="9.2" font-weight="bold" fill="#111" textLength="59.8" lengthAdjust="spacingAndGlyphs">BspDI - ClaI</text>
<text transform="translate(128.78,535.1) rotate(0.03)" font-size="8.5" font-weight="normal" fill="#222" textLength="27.62" lengthAdjust="spacingAndGlyphs">(2216)</text>
<line x1="280.27" y1="456.3" x2="277.6" y2="464.9" stroke="#b0a98f" stroke-width="0.8" />
<line x1="277.6" y1="464.9" x2="225.3" y2="526.62" stroke="#76746e" stroke-width="0.8" />
<text transform="translate(173.32,523.9) rotate(0.03)" font-size="9.2" font-weight="bold" fill="#111" textLength="33.68" lengthAdjust="spacingAndGlyphs">BamHI</text>
<text transform="translate(139.41,523.9) rotate(0.03)" font-size="8.5" font-weight="normal" fill="#222" textLength="27.62" lengthAdjust="spacingAndGlyphs">(2223)</text>
<line x1="278.53" y1="455.75" x2="275.78" y2="464.32" stroke="#b0a98f" stroke-width="0.8" />
<line x1="275.78" y1="464.32" x2="209.8" y2="516.87" stroke="#76746e" stroke-width="0.8" />
<text transform="translate(165.23,507.7) rotate(0.03)" font-size="9.2" font-weight="bold" fill="#111" textLength="22.17" lengthAdjust="spacingAndGlyphs">SspI</text>
<text transform="translate(131.32,507.7) rotate(0.03)" font-size="8.5" font-weight="normal" fill="#222" textLength="27.62" lengthAdjust="spacingAndGlyphs">(2341)</text>
<line x1="250.37" y1="443.74" x2="246.09" y2="451.66" stroke="#b0a98f" stroke-width="0.8" />
<line x1="246.09" y1="451.66" x2="190.2" y2="500.39" stroke="#76746e" stroke-width="0.8" />
<text transform="translate(85.52,394.1) rotate(0.03)" font-size="9.2" font-weight="bold" fill="#111" textLength="22.98" lengthAdjust="spacingAndGlyphs">PvuI</text>
<text transform="translate(51.61,394.1) rotate(0.03)" font-size="8.5" font-weight="normal" fill="#222" textLength="27.62" lengthAdjust="spacingAndGlyphs">(2777)</text>
<line x1="175.63" y1="361.47" x2="167.34" y2="364.96" stroke="#b0a98f" stroke-width="0.8" />
<line x1="167.34" y1="364.96" x2="111.3" y2="388.5" stroke="#76746e" stroke-width="0.8" />
<text transform="translate(73.85,341.9) rotate(0.03)" font-size="9.2" font-weight="bold" fill="#111" textLength="21.65" lengthAdjust="spacingAndGlyphs">FspI</text>
<text transform="translate(39.94,341.9) rotate(0.03)" font-size="8.5" font-weight="normal" fill="#222" textLength="27.62" lengthAdjust="spacingAndGlyphs">(2923)</text>
<line x1="164.97" y1="325.14" x2="156.1" y2="326.68" stroke="#b0a98f" stroke-width="0.8" />
<line x1="156.1" y1="326.68" x2="98.3" y2="337.21" stroke="#76746e" stroke-width="0.8" />
<text transform="translate(70.06,323.7) rotate(0.03)" font-size="9.2" font-weight="bold" fill="#111" textLength="22.44" lengthAdjust="spacingAndGlyphs">AseI</text>
<text transform="translate(36.15,323.7) rotate(0.03)" font-size="8.5" font-weight="normal" fill="#222" textLength="27.62" lengthAdjust="spacingAndGlyphs">(2971)</text>
<line x1="163.29" y1="312.78" x2="154.34" y2="313.66" stroke="#b0a98f" stroke-width="0.8" />
<line x1="154.34" y1="313.66" x2="95.3" y2="319.33" stroke="#76746e" stroke-width="0.8" />
<text transform="translate(65.18,290.2) rotate(0.03)" font-size="9.2" font-weight="bold" fill="#111" textLength="26.52" lengthAdjust="spacingAndGlyphs">BsrFI</text>
<text transform="translate(31.27,290.2) rotate(0.03)" font-size="8.5" font-weight="normal" fill="#222" textLength="27.62" lengthAdjust="spacingAndGlyphs">(3061)</text>
<line x1="162.65" y1="289.42" x2="153.66" y2="289.04" stroke="#b0a98f" stroke-width="0.8" />
<line x1="153.66" y1="289.04" x2="94.5" y2="286.37" stroke="#76746e" stroke-width="0.8" />
<text transform="translate(71.72,258.6) rotate(0.03)" font-size="9.2" font-weight="bold" fill="#111" textLength="23.78" lengthAdjust="spacingAndGlyphs">AhdI</text>
<text transform="translate(37.81,258.6) rotate(0.03)" font-size="8.5" font-weight="normal" fill="#222" textLength="27.62" lengthAdjust="spacingAndGlyphs">(3146)</text>
<line x1="165.04" y1="267.48" x2="156.17" y2="265.92" stroke="#b0a98f" stroke-width="0.8" />
<line x1="156.17" y1="265.92" x2="98.3" y2="255.3" stroke="#76746e" stroke-width="0.8" />
<text transform="translate(304.11,40.3) rotate(0.03)" font-size="9.2" font-weight="bold" fill="#111" textLength="25.19" lengthAdjust="spacingAndGlyphs">BglII</text>
<text transform="translate(285.46,40.3) rotate(0.03)" font-size="8.5" font-weight="normal" fill="#222" textLength="12.35" lengthAdjust="spacingAndGlyphs">(1)</text>
<line x1="330.06" y1="129.2" x2="330.07" y2="120.2" stroke="#b0a98f" stroke-width="0.8" />
<line x1="330.07" y1="120.2" x2="330.07" y2="42.5" stroke="#76746e" stroke-width="0.8" />
<line x1="575.7" y1="18.2" x2="578.3" y2="12.7" stroke="#6ccff0" stroke-width="2.8" stroke-linecap="round"/>
<line x1="579.4" y1="13.6" x2="580.9" y2="17.2" stroke="#93daf4" stroke-width="2.6" stroke-linecap="round"/>
<text x="586.8" y="18.3" font-size="8.2" fill="#a6a6a6" textLength="89" lengthAdjust="spacingAndGlyphs">Created with <tspan fill="#ee9a94">Snap</tspan>Gene<tspan font-size="5" dy="-3">®</tspan></text>
</svg>
</body></html>
